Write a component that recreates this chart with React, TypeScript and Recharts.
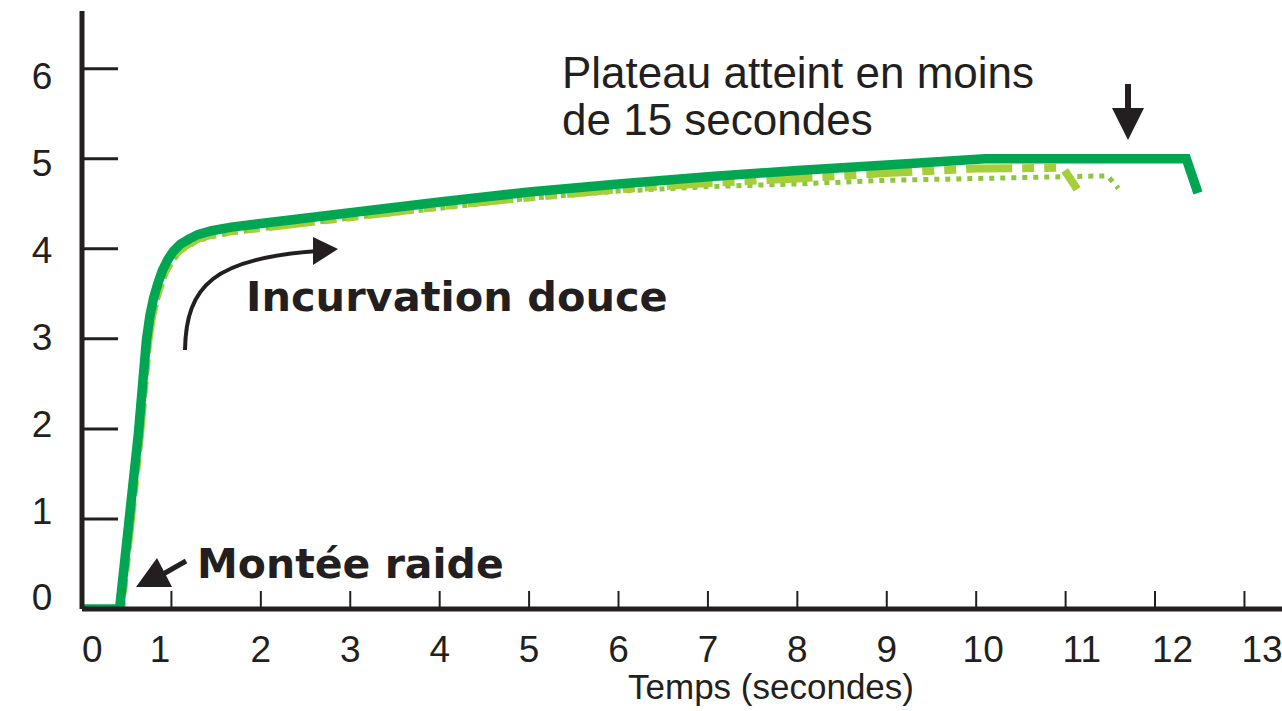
import { LineChart, Line, XAxis, YAxis } from "recharts";

// temps (s) / valeur pour chaque courbe
const MAIN_T = [0, 0.42, 0.63, 0.72, 0.76, 0.8, 0.85, 0.9, 0.96, 1.02, 1.1, 1.2, 1.3, 1.45, 1.67, 2, 3, 4, 5, 6, 7, 8, 9, 10.1, 12.35, 12.48];
const MAIN_V = [0, 0, 1.94, 2.98, 3.26, 3.45, 3.62, 3.76, 3.88, 3.97, 4.05, 4.11, 4.16, 4.2, 4.24, 4.28, 4.4, 4.52, 4.63, 4.72, 4.8, 4.87, 4.93, 5.0, 5.0, 4.62];

const DASH_T = [0, 0.44, 0.65, 0.74, 0.78, 0.82, 0.87, 0.92, 0.98, 1.04, 1.12, 1.22, 1.32, 1.47, 1.7, 2, 3, 4, 5, 6, 7, 8, 9, 10, 10.97, 11.13];
const DASH_V = [0, 0, 1.94, 2.96, 3.23, 3.41, 3.58, 3.72, 3.84, 3.93, 4.01, 4.07, 4.12, 4.16, 4.2, 4.23, 4.35, 4.47, 4.57, 4.66, 4.73, 4.78, 4.84, 4.89, 4.9, 4.66];

const DOT_T = [0, 0.45, 0.66, 0.75, 0.79, 0.83, 0.88, 0.93, 0.99, 1.05, 1.13, 1.23, 1.33, 1.48, 1.7, 2, 3, 4, 5, 6, 7, 8, 9, 10, 11.47, 11.59];
const DOT_V = [0, 0, 1.94, 2.95, 3.21, 3.39, 3.56, 3.7, 3.82, 3.91, 3.99, 4.05, 4.1, 4.14, 4.18, 4.22, 4.34, 4.45, 4.56, 4.64, 4.69, 4.72, 4.76, 4.78, 4.81, 4.67];

const X_TICKS = [0, 1, 2, 3, 4, 5, 6, 7, 8, 9, 10, 11, 12, 13];
const Y_TICKS = [0, 1, 2, 3, 4, 5, 6];

const toRows = (ts: number[], vs: number[]) => ts.map((t, i) => ({ t, v: vs[i] }));
const mainData = toRows(MAIN_T, MAIN_V);
const dashData = toRows(DASH_T, DASH_V);
const dotData = toRows(DOT_T, DOT_V);

const INK = "#231f20";
const FONT = "'Liberation Sans', Arial, sans-serif";
const BOLD_FONT = "'DejaVu Sans', sans-serif";

function XTick(props: any) {
    const { x, y, payload } = props;
    const v = payload.value;
    let anchor: "start" | "middle" | "end" = "middle";
    let dx = 0;
    if (v === 0) { anchor = "start"; dx = 0; }
    else if (v === 1) { anchor = "end"; dx = -1; }
    else if (v === 10) { dx = 7; }
    else if (v > 10) { anchor = "start"; dx = -3; }
    return (
        <g>
            <line x1={x} y1={y} x2={x} y2={y - 18} stroke={INK} strokeWidth={2} />
            <text x={x + dx} y={y + 40} textAnchor={anchor} dominantBaseline="central"
                fontFamily={FONT} fontSize={37} fill={INK}>{v}</text>
        </g>
    );
}

function YTick(props: any) {
    const { x, y, payload } = props;
    // labels drift slightly against the ticks in the original
    const dy = -1.5 + (payload.value - 3) * 3.2;
    return (
        <g>
            <line x1={x} y1={y} x2={x + 36} y2={y} stroke={INK} strokeWidth={3} />
            <text x={x - 40} y={y + dy} textAnchor="middle" dominantBaseline="central"
                fontFamily={FONT} fontSize={37} fill={INK}>{payload.value}</text>
        </g>
    );
}

function Annotations() {
    return (
        <svg width={1282} height={711} style={{ position: "absolute", left: 0, top: 0, pointerEvents: "none" }}>
            <text x={562} y={88} fontFamily={FONT} fontSize={44} fill={INK}>Plateau atteint en moins</text>
            <text x={562} y={135} fontFamily={FONT} fontSize={44} fill={INK}>de 15 secondes</text>
            <rect x={1125} y={84} width={6} height={26} fill={INK} />
            <polygon points="1112,108 1144,108 1128,140" fill={INK} />

            <path d="M 185 350 C 186 285 215 258 318 251" fill="none" stroke={INK} strokeWidth={4} />
            <polygon points="313,237 338,249 313,265" fill={INK} />
            <text x={246} y={311} fontFamily={BOLD_FONT} fontWeight="bold" fontSize={41.5} fill={INK}>Incurvation douce</text>

            <line x1={186} y1={561} x2={158} y2={577} stroke={INK} strokeWidth={5} />
            <polygon points="157,558 172,587 136,587" fill={INK} />
            <text x={197} y={578} fontFamily={BOLD_FONT} fontWeight="bold" fontSize={41} fill={INK}>Montée raide</text>

            <text x={771} y={686} textAnchor="middle" dominantBaseline="central" fontFamily={FONT} fontSize={35} fill={INK}>Temps (secondes)</text>
        </svg>
    );
}

export default function App() {
    return (
        <div style={{ position: "absolute", left: 0, top: 0, width: 1282, height: 711, background: "#fff" }}>
            <LineChart width={1282} height={711} margin={{ top: 11, right: 0, left: 0, bottom: 0 }}>
                <XAxis
                    type="number"
                    dataKey="t"
                    domain={[0, 13.42]}
                    ticks={X_TICKS}
                    interval={0}
                    allowDataOverflow
                    height={102}
                    tickSize={0}
                    tickMargin={0}
                    tickLine={false}
                    axisLine={{ stroke: INK, strokeWidth: 5 }}
                    tick={(p: any) => <XTick {...p} />}
                />
                <YAxis
                    type="number"
                    domain={[0, 6.64]}
                    ticks={Y_TICKS}
                    interval={0}
                    allowDataOverflow
                    width={82}
                    tickSize={0}
                    tickMargin={0}
                    tickLine={false}
                    axisLine={{ stroke: INK, strokeWidth: 5 }}
                    tick={(p: any) => <YTick {...p} />}
                />
                <Line data={dotData} dataKey="v" type="linear" stroke="#8dc63f" strokeWidth={5}
                    strokeDasharray="5 6" dot={false} isAnimationActive={false} />
                <Line data={dashData} dataKey="v" type="linear" stroke="#a6ce39" strokeWidth={8}
                    strokeDasharray="46 10 12 10 12 10" dot={false} isAnimationActive={false} />
                <Line data={mainData} dataKey="v" type="linear" stroke="#00a651" strokeWidth={9.5}
                    strokeLinejoin="miter" dot={false} isAnimationActive={false} />
            </LineChart>
            <Annotations />
        </div>
    );
}
